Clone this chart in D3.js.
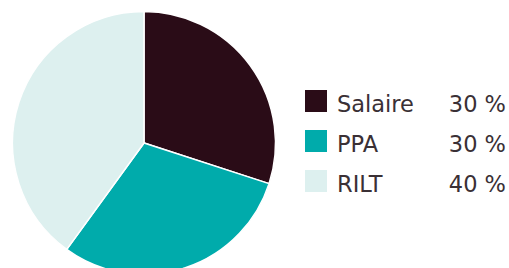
<!DOCTYPE html>
<html>
<head>
    <meta charset="UTF-8">
    <title>Pie</title>
    <script src="https://cdn.jsdelivr.net/npm/d3@7/dist/d3.min.js"></script>
    <style>
        body { margin: 0; background: #fff; }
    </style>
</head>
<body>
<script>
    var categories = ["Salaire", "PPA", "RILT"];
    var values = [30, 30, 40];
    var valueLabels = ["30 %", "30 %", "40 %"];
    var colors = ["#2a0c17", "#00abab", "#ddf0ef"];

    var w = 509, h = 268;
    var cx = 144, cy = 143, r = 131.5;

    var svg = d3.select("body").append("svg")
        .attr("width", w)
        .attr("height", h);

    var color = d3.scaleOrdinal().domain(categories).range(colors);

    var pie = d3.pie().sort(null).value(function (d, i) { return values[i]; });
    var arc = d3.arc().innerRadius(0).outerRadius(r);

    svg.append("g")
        .attr("transform", "translate(" + cx + "," + cy + ")")
        .selectAll("path")
        .data(pie(categories))
        .enter()
        .append("path")
        .attr("d", arc)
        .attr("fill", function (d) { return color(d.data); })
        .attr("stroke", "#fff")
        .attr("stroke-width", 1.5);

    var legend = svg.append("g").attr("transform", "translate(305,90)");
    var row = legend.selectAll("g")
        .data(categories)
        .enter()
        .append("g")
        .attr("transform", function (d, i) { return "translate(0," + i * 40 + ")"; });

    row.append("rect")
        .attr("width", 22)
        .attr("height", 22)
        .attr("fill", function (d) { return color(d); });

    row.append("text")
        .attr("x", 32)
        .attr("y", 22)
        .attr("font-family", "'DejaVu Sans', sans-serif")
        .attr("font-size", 22.5)
        .attr("fill", "#3a3035")
        .text(function (d) { return d; });

    row.append("text")
        .attr("x", 201)
        .attr("y", 22)
        .attr("text-anchor", "end")
        .attr("font-family", "'DejaVu Sans', sans-serif")
        .attr("font-size", 22.5)
        .attr("fill", "#3a3035")
        .text(function (d, i) { return valueLabels[i]; });
</script>
</body>
</html>
